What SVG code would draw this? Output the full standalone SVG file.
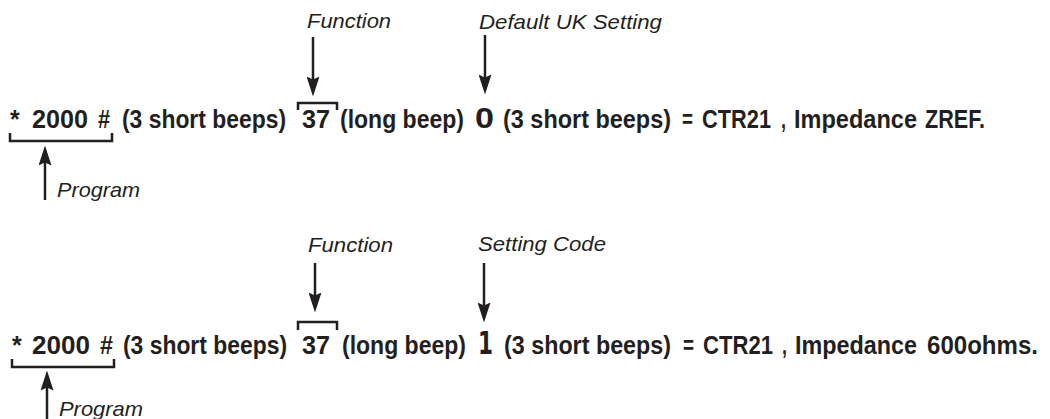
<svg xmlns="http://www.w3.org/2000/svg" width="1050" height="419" viewBox="0 0 1050 419">
  <style>
    .seq { font-family: "Liberation Sans", Arial, sans-serif; font-weight: bold; font-size: 25px; fill: #231f20; }
    .big { font-family: "Liberation Sans", Arial, sans-serif; font-weight: bold; font-size: 30px; fill: #231f20; }
    .big1 { font-family: "DejaVu Sans", sans-serif; font-weight: bold; font-size: 32px; fill: #231f20; }
    .lbl { font-family: "Liberation Sans", Arial, sans-serif; font-style: italic; font-size: 21px; fill: #231f20; }
    .brk { fill: none; stroke: #231f20; stroke-width: 2.5; }
    .arr { fill: none; stroke: #231f20; stroke-width: 2.5; marker-end: url(#head); }
  </style>
  <defs>
    <marker id="head" markerWidth="8" markerHeight="5.2" refX="5" refY="2.6" orient="auto" markerUnits="strokeWidth" viewBox="0 0 8 5.2">
      <path d="M0,0 L8,2.6 L0,5.2 L1.2,2.6 Z" fill="#231f20"/>
    </marker>
  </defs>
  <rect width="1050" height="419" fill="#ffffff"/>

  <!-- first sequence: default UK setting -->
  <g id="sequence-zref">
    <text class="seq" x="10" y="128">*</text>
    <text class="seq" x="32" y="128" textLength="56" lengthAdjust="spacingAndGlyphs">2000</text>
    <text class="seq" x="98" y="128" textLength="12" lengthAdjust="spacingAndGlyphs">#</text>
    <text class="seq" x="122" y="128" textLength="164" lengthAdjust="spacingAndGlyphs">(3 short beeps)</text>
    <text class="seq" x="302" y="128" textLength="28" lengthAdjust="spacingAndGlyphs">37</text>
    <text class="seq" x="340" y="128" textLength="124" lengthAdjust="spacingAndGlyphs">(long beep)</text>
    <text class="big" x="475" y="128" textLength="19" lengthAdjust="spacingAndGlyphs">0</text>
    <text class="seq" x="503" y="128" textLength="168" lengthAdjust="spacingAndGlyphs">(3 short beeps)</text>
    <text class="seq" x="682" y="128" textLength="11" lengthAdjust="spacingAndGlyphs">=</text>
    <text class="seq" x="702" y="128" textLength="69" lengthAdjust="spacingAndGlyphs">CTR21</text>
    <text class="seq" x="781" y="128" textLength="5" lengthAdjust="spacingAndGlyphs">,</text>
    <text class="seq" x="794" y="128" textLength="123" lengthAdjust="spacingAndGlyphs">Impedance</text>
    <text class="seq" x="925" y="128" textLength="60" lengthAdjust="spacingAndGlyphs">ZREF.</text>
  </g>
  <g id="label-function-1">
    <text class="lbl" x="307" y="28" textLength="84" lengthAdjust="spacingAndGlyphs">Function</text>
  </g>
  <g id="label-default-uk">
    <text class="lbl" x="479" y="29" textLength="183" lengthAdjust="spacingAndGlyphs">Default UK Setting</text>
  </g>
  <g id="label-program-1">
    <text class="lbl" x="57" y="197" textLength="83" lengthAdjust="spacingAndGlyphs">Program</text>
  </g>

  <!-- second sequence: 600 ohms setting -->
  <g id="sequence-600">
    <text class="seq" x="12" y="354">*</text>
    <text class="seq" x="32" y="354" textLength="58" lengthAdjust="spacingAndGlyphs">2000</text>
    <text class="seq" x="100" y="354" textLength="13" lengthAdjust="spacingAndGlyphs">#</text>
    <text class="seq" x="123" y="354" textLength="164" lengthAdjust="spacingAndGlyphs">(3 short beeps)</text>
    <text class="seq" x="302" y="354" textLength="28" lengthAdjust="spacingAndGlyphs">37</text>
    <text class="seq" x="342" y="354" textLength="124" lengthAdjust="spacingAndGlyphs">(long beep)</text>
    <text class="big1" x="478" y="354" textLength="15" lengthAdjust="spacingAndGlyphs">1</text>
    <text class="seq" x="504" y="354" textLength="167" lengthAdjust="spacingAndGlyphs">(3 short beeps)</text>
    <text class="seq" x="683" y="354" textLength="11" lengthAdjust="spacingAndGlyphs">=</text>
    <text class="seq" x="703" y="354" textLength="70" lengthAdjust="spacingAndGlyphs">CTR21</text>
    <text class="seq" x="782" y="354" textLength="5" lengthAdjust="spacingAndGlyphs">,</text>
    <text class="seq" x="795" y="354" textLength="122" lengthAdjust="spacingAndGlyphs">Impedance</text>
    <text class="seq" x="927" y="354" textLength="111" lengthAdjust="spacingAndGlyphs">600ohms.</text>
  </g>
  <g id="label-function-2">
    <text class="lbl" x="308" y="252" textLength="85" lengthAdjust="spacingAndGlyphs">Function</text>
  </g>
  <g id="label-setting-code">
    <text class="lbl" x="478" y="251" textLength="128" lengthAdjust="spacingAndGlyphs">Setting Code</text>
  </g>
  <g id="label-program-2">
    <text class="lbl" x="59" y="416" textLength="84" lengthAdjust="spacingAndGlyphs">Program</text>
  </g>

  <!-- brackets and arrows -->
  <g id="connectors">
    <path class="brk" d="M10,133 V141 H112 V133"/>
    <path class="brk" d="M298,110 V103 H337 V110"/>
    <path class="brk" d="M12,359 V367 H114 V359"/>
    <path class="brk" d="M298,330 V322 H337 V330"/>

    <line class="arr" x1="313" y1="37" x2="313" y2="89"/>
    <line class="arr" x1="485" y1="35" x2="485" y2="87"/>
    <line class="arr" x1="45" y1="200" x2="45" y2="153"/>

    <line class="arr" x1="315" y1="263" x2="315" y2="305"/>
    <line class="arr" x1="484" y1="263" x2="484" y2="315"/>
    <line class="arr" x1="47" y1="419" x2="47" y2="378"/>
  </g>
</svg>
